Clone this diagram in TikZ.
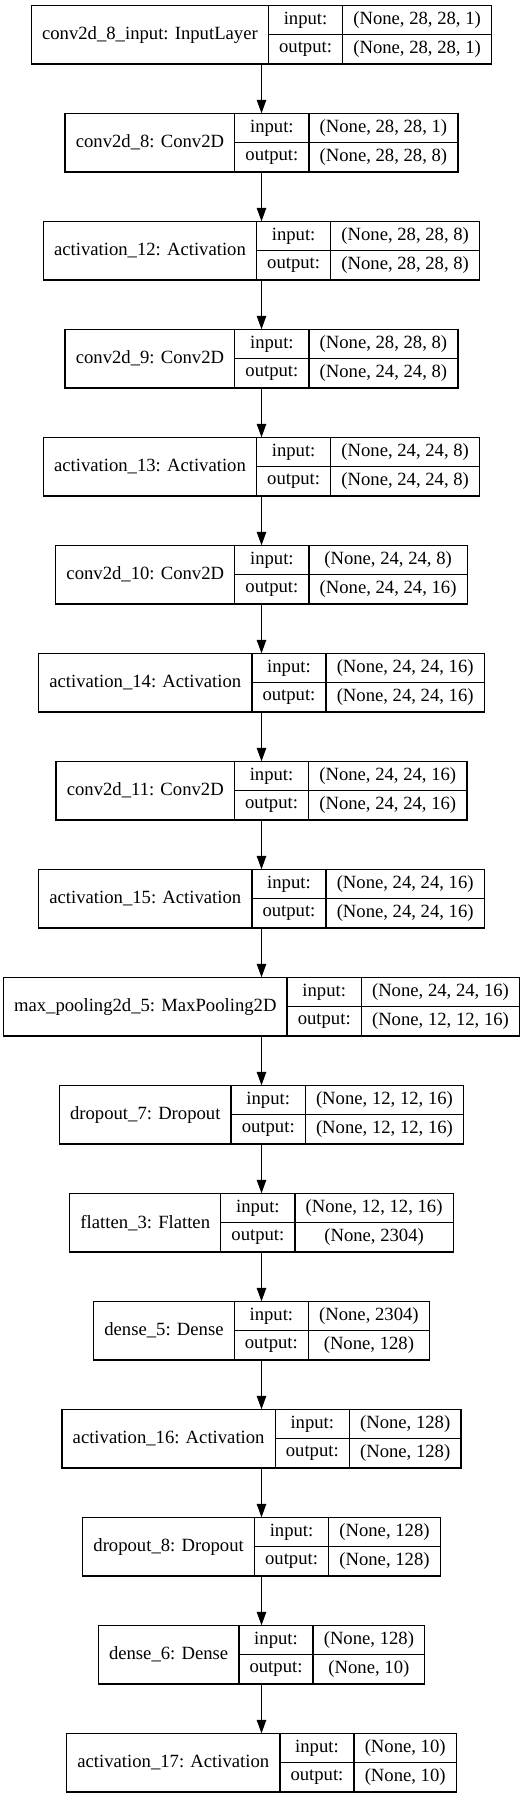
\documentclass[tikz,border=0pt]{standalone}
\usepackage{fontspec}
\setmainfont{Liberation Serif}
\usetikzlibrary{arrows.meta}

\newlength\wlbl
\newlength\wkey
\newlength\wval
\newlength\wtmp
\newcommand\shapefont{\fontsize{14}{16.8}\selectfont}
% text width, measured outside the picture's null font
\newcommand\measure[2]{%
    \pgfinterruptpicture
    \settowidth{#1}{\normalfont\shapefont #2}\global#1=#1\relax
    \endpgfinterruptpicture}

% one keras layer: name, row, label, input shape, output shape
\newcommand\layer[5]{%
    \measure\wlbl{#3}\addtolength\wlbl{16pt}%
    \measure\wkey{output:}\addtolength\wkey{16pt}%
    \measure\wval{#4}\measure\wtmp{#5}%
    \ifdim\wtmp>\wval \wval=\wtmp\fi
    \addtolength\wval{16pt}%
    \node[box, minimum width=\wlbl+\wkey+\wval] (#1) at (261.5, {5.3+108*(#2-1)}) {};
    \node[field, minimum width=\wlbl, minimum height=44pt] (#1-name) at (#1.north west) {#3};
    \node[field, minimum width=\wkey] (#1-ik) at (#1-name.north east) {input:};
    \node[field, minimum width=\wkey] (#1-ok) at (#1-ik.south west) {output:};
    \node[field, minimum width=\wval] (#1-iv) at (#1-ik.north east) {#4};
    \node[field, minimum width=\wval] (#1-ov) at (#1-iv.south west) {#5};
}

\begin{document}
\begin{tikzpicture}
        [
            x = 0.75pt, y = -0.75pt,
            box/.style = {anchor=north, inner sep=0pt, outer sep=0pt, minimum height=44pt},
            field/.style = {draw, line width=1pt, anchor=north west, inner sep=0pt, outer sep=0pt, minimum height=22pt, font=\shapefont},
            edge/.style = {line width=1pt, -{Triangle[length=10pt, width=7pt]}},
        ]
        \useasboundingbox (0,0) rectangle (525,1799);

        \layer{input}{1}{conv2d\_8\_input: InputLayer}{(None, 28, 28, 1)}{(None, 28, 28, 1)}
        \layer{conv8}{2}{conv2d\_8: Conv2D}{(None, 28, 28, 1)}{(None, 28, 28, 8)}
        \layer{act12}{3}{activation\_12: Activation}{(None, 28, 28, 8)}{(None, 28, 28, 8)}
        \layer{conv9}{4}{conv2d\_9: Conv2D}{(None, 28, 28, 8)}{(None, 24, 24, 8)}
        \layer{act13}{5}{activation\_13: Activation}{(None, 24, 24, 8)}{(None, 24, 24, 8)}
        \layer{conv10}{6}{conv2d\_10: Conv2D}{(None, 24, 24, 8)}{(None, 24, 24, 16)}
        \layer{act14}{7}{activation\_14: Activation}{(None, 24, 24, 16)}{(None, 24, 24, 16)}
        \layer{conv11}{8}{conv2d\_11: Conv2D}{(None, 24, 24, 16)}{(None, 24, 24, 16)}
        \layer{act15}{9}{activation\_15: Activation}{(None, 24, 24, 16)}{(None, 24, 24, 16)}
        \layer{pool5}{10}{max\_pooling2d\_5: MaxPooling2D}{(None, 24, 24, 16)}{(None, 12, 12, 16)}
        \layer{drop7}{11}{dropout\_7: Dropout}{(None, 12, 12, 16)}{(None, 12, 12, 16)}
        \layer{flat3}{12}{flatten\_3: Flatten}{(None, 12, 12, 16)}{(None, 2304)}
        \layer{dense5}{13}{dense\_5: Dense}{(None, 2304)}{(None, 128)}
        \layer{act16}{14}{activation\_16: Activation}{(None, 128)}{(None, 128)}
        \layer{drop8}{15}{dropout\_8: Dropout}{(None, 128)}{(None, 128)}
        \layer{dense6}{16}{dense\_6: Dense}{(None, 128)}{(None, 10)}
        \layer{act17}{17}{activation\_17: Activation}{(None, 10)}{(None, 10)}

        \foreach \a/\b in {input/conv8, conv8/act12, act12/conv9, conv9/act13, act13/conv10,
            conv10/act14, act14/conv11, conv11/act15, act15/pool5, pool5/drop7, drop7/flat3,
            flat3/dense5, dense5/act16, act16/drop8, drop8/dense6, dense6/act17}
            \draw[edge] (\a.south) -- (\b.north);
    \end{tikzpicture}
\end{document}
